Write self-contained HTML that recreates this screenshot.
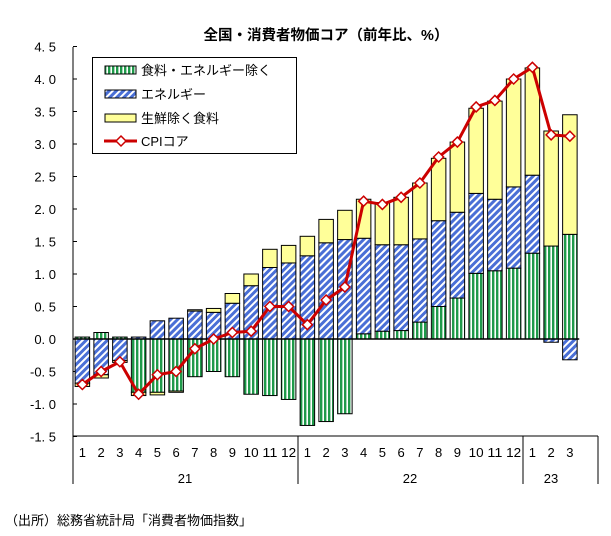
<!DOCTYPE html>
<html><head><meta charset="utf-8">
<style>
html,body{margin:0;padding:0;background:#fff;}
svg{display:block;font-family:"Liberation Sans","Noto Sans CJK JP",sans-serif;}
</style></head>
<body>
<svg id="c" width="611" height="536" viewBox="0 0 611 536" xmlns="http://www.w3.org/2000/svg">
<defs>
<pattern id="pg" patternUnits="userSpaceOnUse" width="4" height="4"><rect width="4" height="4" fill="#fff"/><rect width="2.4" height="4" fill="#1f9a4a"/></pattern>
<pattern id="pb" patternUnits="userSpaceOnUse" width="5" height="5" patternTransform="rotate(45)"><rect width="5" height="5" fill="#fff"/><rect width="3" height="5" fill="#4a6fd6"/></pattern>
</defs>
<text x="326" y="40" text-anchor="middle" font-size="14.5" font-weight="bold" fill="#000">全国・消費者物価コア（前年比、%）</text>
<g id="g"></g>
<text x="5" y="525" font-size="13" fill="#000">（出所）総務省統計局「消費者物価指数」</text>
</svg>
<script>
var G=[0.03,0.1,0.03,-0.82,-0.82,-0.8,-0.58,-0.5,-0.58,-0.85,-0.87,-0.93,-1.33,-1.27,-1.15,0.08,0.12,0.13,0.26,0.5,0.63,1.01,1.05,1.09,1.32,1.43,1.61];
var B=[-0.68,-0.55,-0.33,0.03,0.28,0.32,0.43,0.41,0.55,0.82,1.1,1.17,1.28,1.48,1.53,1.47,1.33,1.32,1.28,1.32,1.32,1.23,1.1,1.25,1.2,-0.05,-0.32];
var Y=[-0.05,-0.05,-0.03,-0.05,-0.04,-0.02,0.02,0.06,0.15,0.18,0.28,0.27,0.3,0.36,0.45,0.6,0.65,0.73,0.86,0.96,1.08,1.31,1.51,1.66,1.65,1.77,1.84];
var C=[-0.7,-0.5,-0.35,-0.85,-0.55,-0.5,-0.15,0,0.1,0.12,0.5,0.5,0.22,0.6,0.8,2.12,2.07,2.18,2.4,2.8,3.03,3.57,3.67,4.0,4.18,3.14,3.12];
var x0=73,w=18.75,z=339,u=65,s='';
function yv(v){return z-v*u;}
// y labels
for(var i=0;i<=12;i++){var v=4.5-i*0.5;var y=yv(v);
 var t=(v<0?'-':'')+Math.abs(v).toFixed(1).replace('.','. ');
 s+='<text x="56" y="'+(y+5)+'" text-anchor="end" font-size="13" fill="#000">'+t+'</text>';
 s+='<line x1="73" y1="'+y+'" x2="77" y2="'+y+'" stroke="#000" stroke-width="1"/>';}
// bars
var bw=14.5;
for(var k=0;k<27;k++){var cx=x0+w*k+w/2,bx=cx-bw/2,p=0,n=0;
 [[G[k],'url(#pg)'],[B[k],'url(#pb)'],[Y[k],'#ffff99']].forEach(function(a){var v=a[0];var y1,y2;
  if(v>=0){y1=yv(p+v);y2=yv(p);p+=v;}else{y1=yv(n);y2=yv(n+v);n+=v;}
  s+='<rect x="'+bx+'" y="'+y1+'" width="'+bw+'" height="'+(y2-y1)+'" fill="'+a[1]+'" stroke="#000" stroke-width="1"/>';});
}
s+='<line x1="73" y1="339" x2="'+(x0+27*w)+'" y2="339" stroke="#000" stroke-width="1.5"/>';
// cpi line
var pts=C.map(function(v,k){return (x0+w*k+w/2)+','+yv(v);}).join(' ');
s+='<polyline points="'+pts+'" fill="none" stroke="#cc0000" stroke-width="3" stroke-linejoin="round"/>';
C.forEach(function(v,k){var cx=x0+w*k+w/2,cy=yv(v);
 s+='<polygon points="'+cx+','+(cy-5)+' '+(cx+5)+','+cy+' '+cx+','+(cy+5)+' '+(cx-5)+','+cy+'" fill="#fff" stroke="#cc0000" stroke-width="1.5"/>';});
// axes
s+='<line x1="73" y1="47" x2="73" y2="484" stroke="#000" stroke-width="1"/>';
s+='<line x1="73" y1="436" x2="598" y2="436" stroke="#000" stroke-width="1"/>';
[298,523,598].forEach(function(x){s+='<line x1="'+x+'" y1="436" x2="'+x+'" y2="484" stroke="#000" stroke-width="1"/>';});
for(var k=0;k<27;k++){var m=k%12+1;var cx=x0+w*k+w/2;
 s+='<text x="'+cx+'" y="457" text-anchor="middle" font-size="13" fill="#000"'+(m>=10?' textLength="15" lengthAdjust="spacingAndGlyphs"':'')+'>'+m+'</text>';}
s+='<text x="185" y="483" text-anchor="middle" font-size="13">21</text>';
s+='<text x="410" y="483" text-anchor="middle" font-size="13">22</text>';
s+='<text x="551" y="483" text-anchor="middle" font-size="13">23</text>';
// legend
s+='<rect x="92.5" y="57.5" width="204" height="96" fill="#fff" stroke="#000" stroke-width="1"/>';
var L=[['url(#pg)','食料・エネルギー除く'],['url(#pb)','エネルギー'],['#ffff99','生鮮除く食料']];
L.forEach(function(a,i){var y=70+i*24;
 s+='<rect x="105" y="'+(y-4)+'" width="31" height="8" fill="'+a[0]+'" stroke="#000" stroke-width="1"/>';
 s+='<text x="141" y="'+(y+5)+'" font-size="13">'+a[1]+'</text>';});
s+='<line x1="104" y1="141" x2="137" y2="141" stroke="#cc0000" stroke-width="3"/>';
s+='<polygon points="121,136 126,141 121,146 116,141" fill="#fff" stroke="#cc0000" stroke-width="1.5"/>';
s+='<text x="141" y="146" font-size="13">CPIコア</text>';
document.getElementById('g').innerHTML=s;
</script>
</body></html>
